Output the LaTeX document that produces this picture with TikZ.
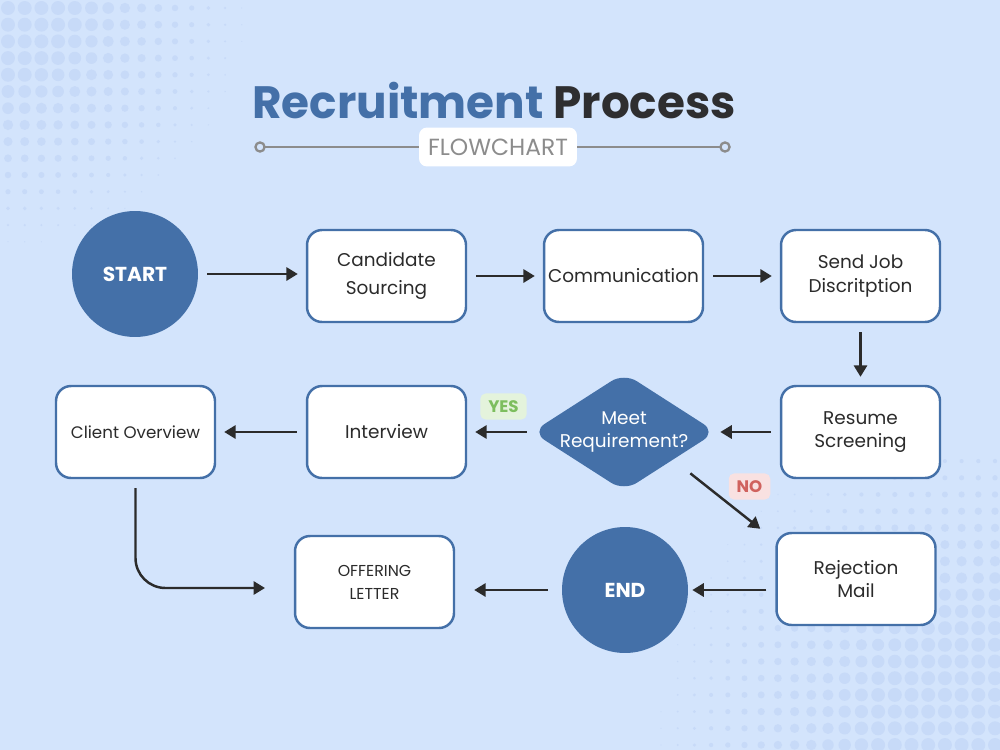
\documentclass[tikz,border=0pt]{standalone}
\usepackage{fontspec}
\setmainfont{Poppins}
\usetikzlibrary{shapes.geometric,arrows.meta,calc}
\definecolor{bg}{HTML}{D3E4FC}
\definecolor{dotc}{HTML}{C7DAF8}
\definecolor{nblue}{HTML}{4470A8}
\definecolor{ink}{HTML}{2B2B2B}
\definecolor{titlec}{HTML}{2E2E30}
\definecolor{gline}{HTML}{8C8C8C}
\definecolor{yesfill}{HTML}{E4F3DC}
\definecolor{yestext}{HTML}{7DBE5E}
\definecolor{nofill}{HTML}{F9E1E1}
\definecolor{notext}{HTML}{D0625E}
\begin{document}
\begin{tikzpicture}[x=0.02cm,y=-0.02cm,
  box/.style={draw=nblue,line width=1.4pt,fill=white,rounded corners=0.3cm,
    minimum width=3.18cm,minimum height=1.84cm,align=center,text=ink,
    font=\fontsize{10.5}{13.5}\selectfont,inner sep=2pt},
  term/.style={circle,fill=nblue,minimum size=2.52cm,text=white,
    font=\fontsize{11.5}{14}\selectfont\bfseries,inner sep=0pt},
  decision/.style={rectangle,minimum width=3.52cm,minimum height=2.24cm,
    inner sep=0pt,text=white,align=center,
    font=\fontsize{10.5}{13.5}\selectfont},
  flow/.style={-{Triangle[length=6.5pt,width=7.5pt]},line width=1.4pt,draw=ink,
    shorten <=0.18cm,shorten >=0.16cm},
  tag/.style={rounded corners=3pt,inner xsep=4.5pt,inner ysep=4pt,
    font=\fontsize{9.5}{10}\selectfont\bfseries}
]
\useasboundingbox (0,0) rectangle (1000,750);
\fill[bg] (0,0) rectangle (1000,750);
% halftone dots top-left
\foreach \i in {0,...,16} {
  \foreach \j in {0,...,16} {
    \pgfmathsetmacro\cx{8+16.7*\i}
    \pgfmathsetmacro\cy{8+16.7*\j}
    \pgfmathsetmacro\d{veclen(\cx,\cy)}
    \pgfmathsetmacro\r{0.567*min(7,10*(1-\d/260))}
    \ifdim\r pt>0.3pt
      \fill[dotc] (\cx,\cy) circle[radius=\r pt];
    \fi
  }
}
% halftone dots bottom-right
\foreach \i in {0,...,20} {
  \foreach \j in {0,...,17} {
    \pgfmathsetmacro\cx{995-16.7*\i}
    \pgfmathsetmacro\cy{745-16.7*\j}
    \pgfmathsetmacro\d{veclen(1000-\cx,750-\cy)}
    \pgfmathsetmacro\r{0.567*min(7,11*(1-\d/360))}
    \ifdim\r pt>0.3pt
      \fill[dotc] (\cx,\cy) circle[radius=\r pt];
    \fi
  }
}
% title
\node[anchor=base,font=\fontsize{25.8}{30}\selectfont\bfseries,inner sep=0pt] (title) at (494,118)
  {\textcolor{nblue}{Recruitment} \textcolor{titlec}{Process}};
\coordinate (ll) at (260,147);
\coordinate (lr) at (725,147);
\draw[gline,line width=1.3pt] (ll) -- (lr);
\draw[gline,line width=1.3pt,fill=bg] (ll) circle[radius=2.6pt];
\draw[gline,line width=1.3pt,fill=bg] (lr) circle[radius=2.6pt];
\node[fill=white,rounded corners=0.16cm,minimum width=3.16cm,minimum height=0.78cm,
  text=gline,font=\fontsize{13.3}{14}\selectfont] (fc) at (498,147) {FLOWCHART};
% nodes
\node[term] (start) at (135,274) {START};
\node[box,font=\fontsize{10.5}{15.5}\selectfont] (cand) at (386.5,276) {Candidate\\Sourcing};
\node[box] (comm) at (623.5,276) {Communication};
\node[box] (send) at (860.5,276) {Send Job\\Discritption};
\node[box] (res) at (860.5,432) {Resume\\Screening};
\coordinate (decc) at (624,432);
\fill[nblue,rounded corners=0.3cm] ($(decc)+(0,-59)$) -- ($(decc)+(92,0)$)
  -- ($(decc)+(0,59)$) -- ($(decc)+(-92,0)$) -- cycle;
\node[decision] (dec) at (decc) {Meet\\Requirement?};
\node[box] (int) at (386.5,432) {Interview};
\node[box,font=\fontsize{9.5}{12}\selectfont] (cli) at (135.5,432) {Client Overview};
\node[box] (rej) at (856,579) {Rejection\\Mail};
\node[term] (end) at (625,590) {END};
\node[box,font=\fontsize{9}{13}\selectfont] (off) at (374.5,582) {OFFERING\\LETTER};
% labels
\node[tag,fill=yesfill,text=yestext] (yes) at (503.5,406.5) {YES};
\node[tag,fill=nofill,text=notext] (no) at (749.5,486.5) {NO};
% connectors
\draw[flow] (start) -- (start -| cand.west);
\draw[flow] (cand) -- (comm);
\draw[flow] (comm) -- (send);
\draw[flow] (send) -- (res);
\draw[flow] (res) -- (dec);
\draw[flow] (dec) -- (int);
\draw[flow] (int) -- (cli);
\draw[flow,shorten <=0pt,shorten >=0pt] ($(dec.south east)+(-22,-15)$) -- ($(rej.north west)+(-15,-3)$);
\draw[flow,shorten >=0.08cm] (rej.west |- end) -- (end);
\draw[flow,shorten <=0.28cm,shorten >=0.38cm] (end) -- (end -| off.east);
\coordinate (offin) at (265,588);
\draw[flow,rounded corners=0.6cm,shorten <=0pt,shorten >=0pt] ($(cli.south)+(0,9)$) |- (offin);
\end{tikzpicture}
\end{document}
